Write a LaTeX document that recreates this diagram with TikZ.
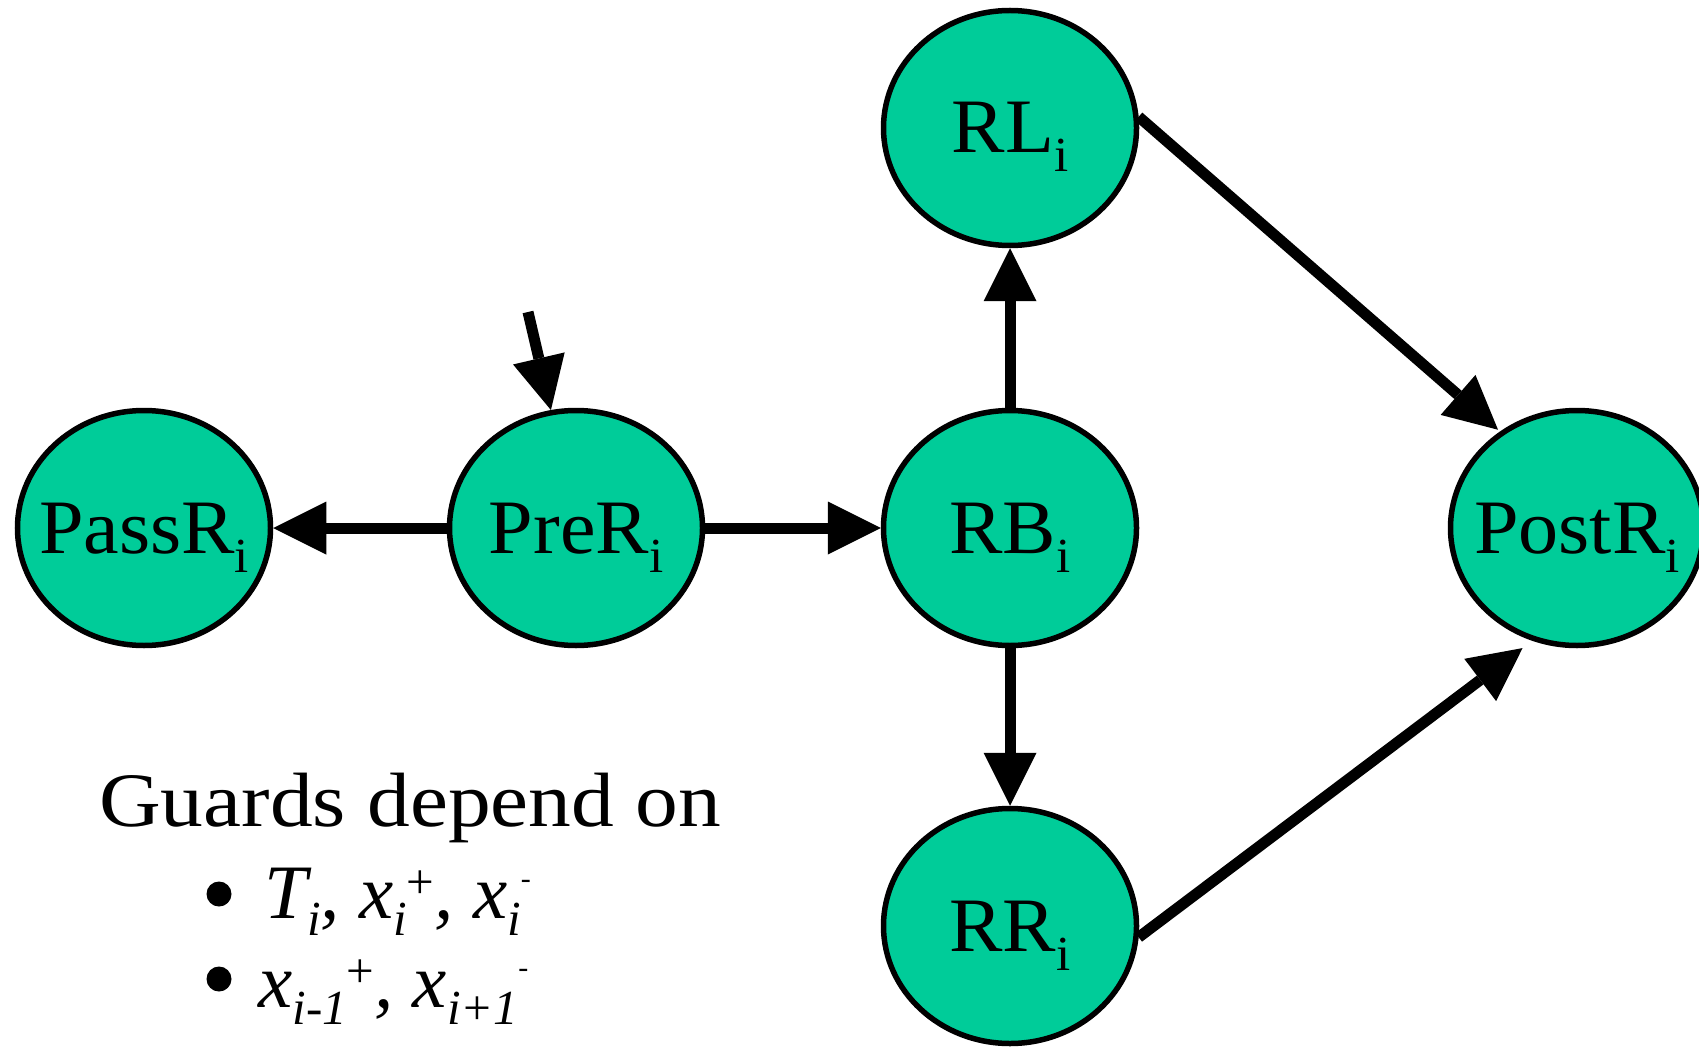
\documentclass[tikz,border=0pt]{standalone}
\usepackage{fontspec}
\setmainfont{Liberation Serif}[FakeStretch=1.04]
\newfontfamily\guardfont{Liberation Serif}[FakeStretch=1.11]
\newfontfamily\mathlikefont{Liberation Serif}
\usetikzlibrary{shapes.geometric,arrows.meta}
\definecolor{nodegreen}{RGB}{0,204,153}
\newcommand{\mysubup}[1]{\raisebox{-19pt}{\fontsize{49}{49}\selectfont #1}}
\newcommand{\mysub}[1]{\raisebox{-17pt}{\fontsize{49}{49}\selectfont\itshape #1}}
\newcommand{\mysup}[1]{\raisebox{20pt}{\fontsize{49}{49}\selectfont\upshape #1}}
\newcommand{\mysupm}{\raisebox{30pt}{\fontsize{30}{30}\selectfont\upshape -}}
\tikzset{
  st/.style={ellipse, draw=black, line width=5.5pt, fill=nodegreen,
    minimum width=253pt, minimum height=235pt, inner sep=0pt},
  lbl/.style={inner sep=0pt, text height=60pt, text depth=10pt,
    font=\fontsize{77}{80}\selectfont},
  arr/.style={line width=11pt, -{Triangle[length=53pt, width=53pt, line width=0pt]}},
  txt/.style={anchor=base west, inner sep=0pt, font=\fontsize{77}{80}\selectfont},
  dot/.style={circle, fill=black, minimum size=25pt, inner sep=0pt}
}
\begin{document}
\begin{tikzpicture}[x=1pt,y=-1pt]
\useasboundingbox (0,0) rectangle (1699,1048);
\node[st, label={[lbl]center:PassR\mysubup{i}}] (pass) at (144,528) {};
\node[st, label={[lbl]center:PreR\mysubup{i}}] (pre) at (576,528) {};
\node[st, label={[lbl]center:RB\mysubup{i}}] (rb) at (1010,528) {};
\node[st, label={[lbl]center:RL\mysubup{i}}] (rl) at (1010,128) {};
\node[st, label={[lbl]center:RR\mysubup{i}}] (rr) at (1010,926) {};
\node[st, label={[lbl]center:PostR\mysubup{i}}] (post) at (1577,528) {};
\coordinate (init) at (528,312);
\draw[arr] (init) -- (pre.102);
\draw[arr] (pre) -- (pass);
\draw[arr] (pre) -- (rb);
\draw[arr] (rb) -- (rl);
\draw[arr] (rb) -- (rr);
\draw[arr] (rl.5) -- ([shift={(-3,-1)}]post.128);
\draw[arr] (rr.-5) -- ([shift={(-5,9)}]post.246);
\node[txt, font=\fontsize{77}{80}\guardfont] (guards) at (99,826) {Guards depend on};
\node[dot] (b1) at (219,894) {};
\node[dot] (b2) at (219,979) {};
\node[txt, font=\fontsize{77}{80}\mathlikefont] (l1) at (264,918) {\itshape T\mysub{i}, x\mysub{i}\mysup{+}, x\mysub{i}\mysupm};
\node[txt, font=\fontsize{77}{80}\mathlikefont] (l2) at (258,1007) {\itshape x\mysub{i-1}\mysup{+}, x\mysub{i+1}\mysupm};
\end{tikzpicture}
\end{document}
